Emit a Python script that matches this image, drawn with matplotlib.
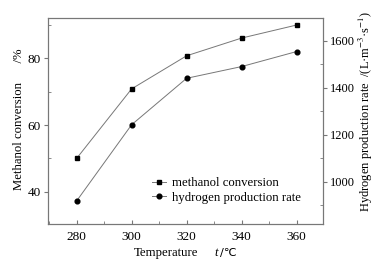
import matplotlib
matplotlib.use("Agg")
import matplotlib.pyplot as plt
from matplotlib.ticker import MultipleLocator

plt.rcParams['font.family'] = ['Liberation Serif', 'DejaVu Sans']
plt.rcParams['mathtext.fontset'] = 'stix'
plt.rcParams['font.size'] = 9

temperature = [280, 300, 320, 340, 360]
methanol_conversion = [50.0, 70.8, 80.7, 86.0, 89.9]
hydrogen_rate = [918, 1243, 1441, 1491, 1555]

gray = '#777777'
W, H = 387, 261
fig = plt.figure(figsize=(3.87, 2.61), dpi=100)
ax = fig.add_axes([48/W, 1 - 224/H, 275/W, 206/H])
ax2 = ax.twinx()

l1, = ax.plot(temperature, methanol_conversion, color=gray, lw=0.7, marker='s',
              ms=3.0, mfc='black', mec='black', label='methanol conversion')
l2, = ax2.plot(temperature, hydrogen_rate, color=gray, lw=0.7, marker='o',
               ms=3.4, mfc='black', mec='black', label='hydrogen production rate')

ax.set_xlim(269.6, 369.6)
ax.set_ylim(30.4, 92)
ax2.set_ylim(820, 1698)

ax.xaxis.set_major_locator(MultipleLocator(20))
ax.xaxis.set_minor_locator(MultipleLocator(10))
ax.yaxis.set_major_locator(MultipleLocator(20))
ax.yaxis.set_minor_locator(MultipleLocator(10))
ax2.yaxis.set_major_locator(MultipleLocator(200))
ax2.yaxis.set_minor_locator(MultipleLocator(100))

for a in (ax, ax2):
    for s in a.spines.values():
        s.set_color(gray)
        s.set_linewidth(0.8)

ax.tick_params(axis='x', which='both', direction='in', color=gray, top=False, labelsize=9.5)
ax.tick_params(axis='x', which='major', length=3, pad=5)
ax.tick_params(axis='x', which='minor', length=2)
ax.tick_params(axis='y', which='major', direction='out', length=3, color=gray, pad=2, labelsize=9.5)
ax.tick_params(axis='y', which='minor', direction='in', length=2, color=gray)
ax2.tick_params(axis='y', which='major', direction='out', length=3, color=gray, pad=2, labelsize=9)
ax2.tick_params(axis='y', which='minor', direction='in', length=2, color=gray)

# x label pieces (so that the degree sign uses a font that has it)
ybase = 1 - 256/H
fig.text(166/W, ybase, 'Temperature', ha='center', va='baseline', fontsize=9.2)
fig.text(216/W, ybase, 't', ha='center', va='baseline', fontsize=9.2, style='italic')
fig.text(220/W, ybase, '/\u2103', ha='left', va='baseline', fontsize=8.2,
         family=['DejaVu Sans'])

ax.set_ylabel('Methanol conversion      /%', fontsize=9.2)
ax.yaxis.set_label_coords(-0.084, 0.51)
ax2.set_ylabel('Hydrogen production rate  /(L\u00b7m$^{-3}$\u00b7s$^{-1}$)', fontsize=9)
ax2.yaxis.set_label_coords((357 - 48)/275, 0.545)

fig.legend(handles=[l1, l2], loc='upper left', bbox_to_anchor=(146/W, 1 - 171/H),
           frameon=False, borderpad=0, handlelength=1.1, handletextpad=0.4,
           labelspacing=0.2, fontsize=9.2)

fig.savefig('out.png', dpi=100)
